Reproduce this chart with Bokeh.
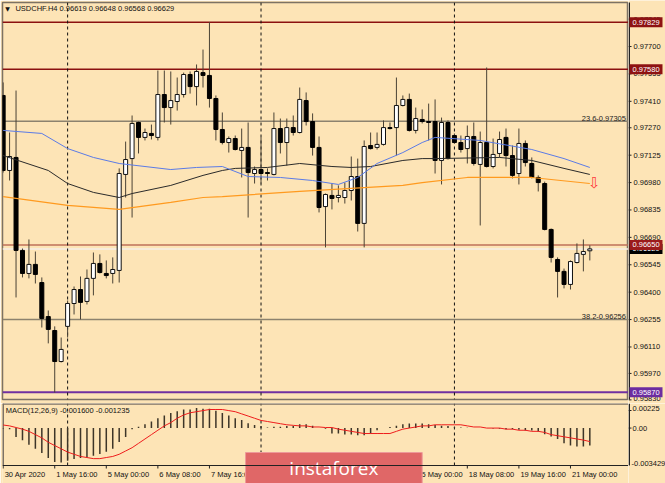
import math
from bokeh.plotting import figure
from bokeh.layouts import column, row
from bokeh.models import ColumnDataSource, Span, Label, Range1d
from bokeh.core.properties import value
from bokeh.embed import file_html
from bokeh.resources import INLINE

# ---------------- data ----------------
symbol_title = "USDCHF.H4 0.96619 0.96648 0.96568 0.96629"
macd_title = "MACD(12,26,9) -0.001600 -0.001235"

bar_idx = list(range(92))
opens = [0.97441, 0.97044, 0.97113, 0.96621, 0.96499, 0.96547, 0.96451, 0.96271, 0.96197, 0.96033,
         0.96219, 0.96340, 0.96414, 0.96351, 0.96473, 0.96552, 0.96499, 0.96499, 0.96515, 0.97023,
         0.97107, 0.97298, 0.97219, 0.97240, 0.97219, 0.97446, 0.97377, 0.97409, 0.97446, 0.97552,
         0.97488, 0.97562, 0.97547, 0.97425, 0.97261, 0.97192, 0.97213, 0.97150, 0.97166, 0.97028,
         0.97049, 0.97033, 0.97023, 0.97266, 0.97192, 0.97271, 0.97245, 0.97414, 0.97303, 0.97166,
         0.96853, 0.96912, 0.96901, 0.96901, 0.96938, 0.97012, 0.96764, 0.97176, 0.97166, 0.97182,
         0.97271, 0.97271, 0.97388, 0.97420, 0.97256, 0.97314, 0.97303, 0.97303, 0.97097, 0.97298,
         0.97229, 0.97192, 0.97160, 0.97224, 0.97076, 0.97192, 0.97065, 0.97134, 0.97219, 0.97123,
         0.97028, 0.97187, 0.97081, 0.97007, 0.96975, 0.96732, 0.96573, 0.96510, 0.96441, 0.96557,
         0.96600, 0.96619]
highs = [0.97510, 0.97245, 0.97467, 0.96631, 0.96679, 0.96615, 0.96478, 0.96303, 0.96219, 0.96160,
         0.96356, 0.96430, 0.96483, 0.96520, 0.96610, 0.96600, 0.96568, 0.96584, 0.97055, 0.97197,
         0.97335, 0.97303, 0.97266, 0.97287, 0.97573, 0.97573, 0.97568, 0.97536, 0.97562, 0.97568,
         0.97605, 0.97684, 0.97829, 0.97441, 0.97351, 0.97224, 0.97229, 0.97266, 0.97298, 0.97065,
         0.97219, 0.97055, 0.97351, 0.97319, 0.97319, 0.97335, 0.97483, 0.97457, 0.97346, 0.97224,
         0.96922, 0.96975, 0.96965, 0.96980, 0.97118, 0.97107, 0.97203, 0.97245, 0.97245, 0.97309,
         0.97298, 0.97536, 0.97441, 0.97451, 0.97377, 0.97367, 0.97398, 0.97420, 0.97324, 0.97309,
         0.97240, 0.97229, 0.97282, 0.97298, 0.97250, 0.97589, 0.97213, 0.97250, 0.97266, 0.97176,
         0.97266, 0.97203, 0.97113, 0.97018, 0.96985, 0.96737, 0.96584, 0.96525, 0.96568, 0.96658,
         0.96679, 0.96648]
lows = [0.97033, 0.96991, 0.96372, 0.96478, 0.96473, 0.96446, 0.96213, 0.96129, 0.95869, 0.96028,
        0.96160, 0.96282, 0.96256, 0.96335, 0.96383, 0.96499, 0.96473, 0.96446, 0.96451, 0.96901,
        0.96795, 0.97134, 0.97203, 0.97208, 0.97203, 0.97298, 0.97287, 0.97361, 0.97430, 0.97451,
        0.97388, 0.97483, 0.97377, 0.97203, 0.97182, 0.97139, 0.97150, 0.97007, 0.96795, 0.96975,
        0.96975, 0.96991, 0.97018, 0.97134, 0.97070, 0.97229, 0.97240, 0.97282, 0.97123, 0.96822,
        0.96637, 0.96838, 0.96875, 0.96869, 0.96885, 0.96721, 0.96637, 0.97155, 0.97155, 0.97176,
        0.97261, 0.97123, 0.97383, 0.97250, 0.97240, 0.97293, 0.97203, 0.97028, 0.96970, 0.97102,
        0.97187, 0.97139, 0.97081, 0.97070, 0.96753, 0.97060, 0.97055, 0.97113, 0.97065, 0.97002,
        0.96970, 0.97065, 0.97002, 0.96933, 0.96727, 0.96557, 0.96372, 0.96420, 0.96414, 0.96552,
        0.96510, 0.96568]
closes = [0.97044, 0.97118, 0.96621, 0.96499, 0.96547, 0.96494, 0.96261, 0.96203, 0.96033, 0.96097,
          0.96340, 0.96414, 0.96346, 0.96473, 0.96552, 0.96504, 0.96488, 0.96520, 0.97028, 0.97102,
          0.97293, 0.97219, 0.97245, 0.97229, 0.97446, 0.97377, 0.97414, 0.97446, 0.97552, 0.97488,
          0.97568, 0.97547, 0.97425, 0.97261, 0.97192, 0.97213, 0.97155, 0.97166, 0.97033, 0.97049,
          0.97028, 0.97028, 0.97266, 0.97192, 0.97271, 0.97245, 0.97420, 0.97303, 0.97166, 0.96848,
          0.96917, 0.96896, 0.96912, 0.96938, 0.97012, 0.96764, 0.97171, 0.97160, 0.97182, 0.97271,
          0.97266, 0.97388, 0.97420, 0.97256, 0.97319, 0.97303, 0.97298, 0.97097, 0.97298, 0.97107,
          0.97192, 0.97155, 0.97224, 0.97081, 0.97192, 0.97065, 0.97129, 0.97208, 0.97123, 0.97018,
          0.97187, 0.97086, 0.97007, 0.96980, 0.96732, 0.96584, 0.96510, 0.96441, 0.96562, 0.96605,
          0.96615, 0.96629]

# moving averages, read at selected bars
ma_blue_x = [0, 6, 10, 14, 18, 26, 30, 34, 38, 43, 48, 52, 55, 58, 62, 65, 67, 74, 82, 87, 91]
ma_blue_y = [0.97256, 0.97240, 0.97160, 0.97113, 0.97081, 0.97049, 0.97060, 0.97065, 0.97012, 0.97007,
             0.96991, 0.96970, 0.97007, 0.97081, 0.97139, 0.97192, 0.97219, 0.97203, 0.97155, 0.97107, 0.97060]
ma_black_x = [0, 7, 10, 14, 18, 20, 26, 31, 34, 36, 41, 46, 51, 54, 57, 62, 65, 67, 77, 82, 87, 91]
ma_black_y = [0.97123, 0.97044, 0.96975, 0.96928, 0.96901, 0.96922, 0.96965, 0.97018, 0.97044, 0.97055,
              0.97060, 0.97081, 0.97065, 0.97060, 0.97065, 0.97097, 0.97107, 0.97107, 0.97113, 0.97097,
              0.97055, 0.97023]
ma_orange_x = [0, 10, 18, 26, 31, 34, 46, 62, 65, 72, 82, 91]
ma_orange_y = [0.96906, 0.96859, 0.96838, 0.96875, 0.96901, 0.96906, 0.96933, 0.96965, 0.96980, 0.97007,
               0.97007, 0.96975]

macd_main = [-0.00005, -0.0001, -0.00081, -0.00112, -0.00153, -0.0019, -0.00228, -0.00275, -0.0031, -0.00316,
             -0.003, -0.00284, -0.00275, -0.00269, -0.00253, -0.00237, -0.00216, -0.0019, -0.00128, -0.00081,
             -0.0001, 0.00013, 0.00034, 0.00059, 0.00091, 0.00116, 0.00138, 0.00153, 0.00169, 0.00169,
             0.00184, 0.00178, 0.00178, 0.00159, 0.00138, 0.00116, 0.00091, 0.00075, 0.00044, 0.00028,
             0.0002, 0.00006, 0.00013, 0.00013, 0.00019, 0.00019, 0.00034, 0.00034, 0.00022, 0.0,
             -0.00006, -0.0005, -0.0005, -0.00059, -0.00059, -0.00066, -0.00066, -0.0005, -0.00019, 0.0,
             0.0001, 0.00022, 0.00034, 0.00041, 0.00041, 0.00041, 0.00034, 0.00028, 0.00022, 0.00019,
             0.00006, 0.00006, 0.00003, 0.0, 0.0, 0.0, -0.00003, -0.00006, -0.0001, -0.0001,
             -0.00016, -0.00022, -0.00022, -0.00031, -0.00056, -0.00078, -0.001, -0.0014, -0.0016, -0.0017,
             -0.0017, -0.0016]
macd_signal = [0.00028, 0.0002, 0.00005, -0.0001, -0.0003, -0.0006, -0.0009, -0.0013, -0.0016, -0.0019,
               -0.0022, -0.0024, -0.0026, -0.0027, -0.0028, -0.0028, -0.0027, -0.0026, -0.0024, -0.0021,
               -0.0018, -0.0014, -0.0010, -0.0006, -0.0002, 0.0002, 0.0005, 0.0009, 0.0012, 0.0014,
               0.0015, 0.0016, 0.0017, 0.0017, 0.0017, 0.0016, 0.0015, 0.0013, 0.0011, 0.0009,
               0.0007, 0.0006, 0.0005, 0.0004, 0.0003, 0.00025, 0.0002, 0.0002, 0.0001, 0.0001,
               0.00005, 0.00005, -0.0001, -0.0002, -0.0003, -0.0004, -0.0005, -0.0005, -0.0005, -0.0005,
               -0.0005, -0.0003, -0.0001, 0.0, 0.0001, 0.0002, 0.0002, 0.0003, 0.0003, 0.0003,
               0.0003, 0.0003, 0.0002, 0.0001, 0.0001, 0.0, 0.0, 0.0, -0.0001, -0.0001,
               -0.0002, -0.0002, -0.0003, -0.0003, -0.0004, -0.0006, -0.0007, -0.0008, -0.0009, -0.001,
               -0.0011, -0.001235]

# horizontal levels
res_levels = [0.97829, 0.97580]
fib_levels = [0.97305, 0.96256]
fib_texts = ["23.6-0.97305", "38.2-0.96256"]
pivot_level = 0.96650
bid_level = 0.96629
support_level = 0.95870

price_ticks = [0.97845, 0.97700, 0.97555, 0.97410, 0.97270, 0.97125, 0.96980, 0.96835, 0.96690,
               0.96545, 0.96400, 0.96255, 0.96110, 0.95970, 0.95830]
macd_top, macd_bottom = 0.00225, -0.003429
macd_tick_labels = ["0.00225", "0.00", "-0.003429"]

separators = [10, 40, 70]
date_ticks = [0, 8, 16, 24, 32, 40, 48, 56, 64, 72, 80, 88]
date_labels = ["30 Apr 2020", "1 May 16:00", "5 May 00:00", "6 May 08:00", "7 May 16:00", "11 May 00:00",
               "12 May 08:00", "13 May 16:00", "15 May 00:00", "18 May 08:00", "19 May 16:00", "21 May 00:00"]

# ---------------- styling / geometry ----------------
BG = "#FDE4B6"
FONT = "Liberation Sans"
FS = "7.5px"
WICK = "#4a4235"
INK = "#111111"

PRICE_TOP, PRICE_BOT = 0.97933, 0.95832        # main frame, 397 px tall
PX_MAIN = (PRICE_TOP - PRICE_BOT) / 397.0
PX_MACD = (macd_top - macd_bottom) / 62.0       # MACD panel, 62 px tall
MACD_EXT_BOT = macd_bottom - 18 * PX_MACD       # frame extends over the time-axis strip

x_range = Range1d(-0.1, 97.0)

def base_fig(w, h, xr, yr, **borders):
    f = figure(width=w, height=h, x_range=xr, y_range=yr, x_axis_location=None, y_axis_location=None,
               toolbar_location=None, output_backend="svg", background_fill_color=BG,
               border_fill_color=BG, **borders)
    f.grid.visible = False
    f.outline_line_color = None
    return f

# ---------- main price panel ----------
p = base_fig(628, 403, x_range, Range1d(PRICE_BOT, PRICE_TOP),
             min_border_left=2, min_border_right=0, min_border_top=2, min_border_bottom=4)
p.outline_line_color = "#7d7264"
p.outline_line_width = 1.5

for lv in res_levels:
    p.add_layout(Span(location=lv, dimension="width", line_color="#8B1010", line_width=1.5, level="underlay"))
for lv in fib_levels:
    p.add_layout(Span(location=lv, dimension="width", line_color="#8c826e", line_width=1.5, level="underlay"))
p.add_layout(Span(location=pivot_level, dimension="width", line_color="#BE7158", line_width=1.5, level="underlay"))
p.add_layout(Span(location=bid_level, dimension="width", line_color="#F4EEE6", line_width=1.5, level="underlay"))
p.add_layout(Span(location=support_level, dimension="width", line_color="#7030A0", line_width=2, level="underlay"))
for s in separators:
    p.add_layout(Span(location=s, dimension="height", line_color=INK, line_width=1,
                      line_dash="3 3", level="underlay"))

src = ColumnDataSource(dict(x=bar_idx, l=lows, h=highs))
p.segment(x0="x", y0="l", x1="x", y1="h", source=src, line_color=WICK, line_width=1)
bull = [i for i in bar_idx if closes[i] >= opens[i]]
bear = [i for i in bar_idx if closes[i] < opens[i]]
bull_src = ColumnDataSource(dict(x=bull, top=[max(opens[i], closes[i]) for i in bull],
                                 bot=[min(opens[i], closes[i]) for i in bull]))
bear_src = ColumnDataSource(dict(x=bear, top=[max(opens[i], closes[i]) for i in bear],
                                 bot=[min(opens[i], closes[i]) for i in bear]))
p.vbar(x="x", top="top", bottom="bot", width=0.62, source=bull_src, fill_color="white",
       line_color=INK, line_width=1)
p.vbar(x="x", top="top", bottom="bot", width=0.62, source=bear_src, fill_color="#000000",
       line_color="#000000", line_width=1)

p.line(ma_orange_x, ma_orange_y, line_color="#FF9A1F", line_width=1.2)
p.line(ma_black_x, ma_black_y, line_color="#2a2a2a", line_width=1)
p.line(ma_blue_x, ma_blue_y, line_color="#5B7BE6", line_width=1)

p.add_layout(Label(x=0.7, y=PRICE_TOP - 6 * PX_MAIN, text="\u25bc", text_font="DejaVu Sans",
                   text_font_size="6px", text_color=INK, text_align="center", text_baseline="middle"))
p.add_layout(Label(x=1.9, y=PRICE_TOP - 6 * PX_MAIN, text=symbol_title, text_font=FONT,
                   text_font_size=FS, text_color=INK, text_align="left", text_baseline="middle"))
for lv, t in zip(fib_levels, fib_texts):
    p.add_layout(Label(x=96.6, y=lv, text=t, text_font=FONT, text_font_size=FS, text_color="#222222",
                       text_align="right", text_baseline="bottom"))
p.add_layout(Label(x=91.7, y=0.96980, text="\u21e9", text_font="DejaVu Sans", text_font_size="15px",
                   text_color="#FF3A3A", text_align="center", text_baseline="middle"))

# ---------- right price scale strip ----------
s1 = base_fig(37, 403, Range1d(0, 37), Range1d(PRICE_BOT - 4 * PX_MAIN, PRICE_TOP + 2 * PX_MAIN),
              min_border_left=0, min_border_right=0, min_border_top=0, min_border_bottom=0)
s1.segment(x0=[0.75], y0=[PRICE_BOT], x1=[0.75], y1=[PRICE_TOP], line_color="#222222", line_width=1.5)
s1.segment(x0=[0] * len(price_ticks), y0=price_ticks, x1=[3] * len(price_ticks), y1=price_ticks,
           line_color="#222222", line_width=1)
tick_shift = [0] * (len(price_ticks) - 1) + [-1.5]
s1.text(x=[5] * len(price_ticks), y=price_ticks, text=["%.5f" % v for v in price_ticks], y_offset=tick_shift,
        text_font=value(FONT), text_font_size=FS, text_color=INK, text_baseline="middle", text_align="left")

# price boxes, each box drawn with its own text so later boxes cover earlier ones
box_levels = [res_levels[0], res_levels[1], bid_level, pivot_level, support_level]
box_colors = ["#8E1212", "#8E1212", "#000000", "#9B1B1B", "#6C2DA0"]
for lv, col in zip(box_levels, box_colors):
    s1.rect(x=[17.5], y=[lv], width=33, height=10, height_units="screen", fill_color=col, line_color=None)
    s1.text(x=[4], y=[lv], text=["%.5f" % lv], text_font=value(FONT), text_font_size=FS,
            text_color="white", text_baseline="middle", text_align="left")

# ---------- MACD panel (frame also covers the time-axis strip) ----------
p2 = base_fig(628, 80, x_range, Range1d(MACD_EXT_BOT, macd_top),
              min_border_left=2, min_border_right=0, min_border_top=0, min_border_bottom=0)
p2.add_layout(Span(location=macd_top, dimension="width", line_color="#7d7264", line_width=2.5))
p2.segment(x0=[-0.1], y0=[macd_bottom], x1=[-0.1], y1=[macd_top], line_color="#7d7264", line_width=3)
p2.segment(x0=separators, y0=[macd_bottom] * 3, x1=separators, y1=[macd_top] * 3,
           line_color=INK, line_width=1, line_dash="3 3")

p2.segment(x0=bar_idx, y0=[0] * len(bar_idx), x1=bar_idx, y1=macd_main, line_color="#3d3528", line_width=1.5)
p2.line(bar_idx, macd_signal, line_color="#EE1C1C", line_width=1)
p2.add_layout(Label(x=0.4, y=macd_top - 7 * PX_MACD, text=macd_title, text_font=FONT, text_font_size=FS,
                    text_color=INK, text_align="left", text_baseline="middle"))

# time axis
p2.add_layout(Span(location=macd_bottom, dimension="width", line_color="#222222", line_width=1.2))
p2.ray(x=date_ticks, y=[macd_bottom] * len(date_ticks), length=3, length_units="screen",
       angle=-math.pi / 2, line_color="#222222", line_width=1)
p2.text(x=date_ticks, y=[macd_bottom] * len(date_ticks), text=date_labels, x_offset=1.5, y_offset=4,
        text_font=value(FONT), text_font_size=FS, text_color=INK, text_baseline="top", text_align="left")

# watermark banner
p2.quad(left=[37.6], right=[65.0], top=[macd_top - 49 * PX_MACD], bottom=[MACD_EXT_BOT],
        fill_color="#E06767", line_color="#EE9A9A", line_width=1)
p2.text(x=[51.3], y=[macd_top - 64 * PX_MACD], text=["instaforex"], text_font=value("Open Sans"),
        text_font_size="19px", text_color="white", text_align="center", text_baseline="middle")

# ---------- right MACD scale strip ----------
s2 = base_fig(37, 80, Range1d(0, 37), Range1d(MACD_EXT_BOT, macd_top),
              min_border_left=0, min_border_right=0, min_border_top=0, min_border_bottom=0)
s2.segment(x0=[0.75], y0=[macd_bottom], x1=[0.75], y1=[macd_top], line_color="#222222", line_width=1.5)
s2.segment(x0=[0, 0], y0=[0.0, macd_top - 7 * PX_MACD], x1=[3, 3], y1=[0.0, macd_top - 7 * PX_MACD],
           line_color="#222222", line_width=1)
s2.text(x=[4, 4, 3], y=[macd_top, 0.0, macd_bottom], text=macd_tick_labels, y_offset=[2, 0, 0],
        text_baseline=["top", "middle", "bottom"], text_font=value(FONT), text_font_size=FS,
        text_color=INK, text_align="left")

layout = row(column(p, p2, spacing=0), column(s1, s2, spacing=0), spacing=0)
open("out.html", "w").write(file_html(layout, INLINE))
